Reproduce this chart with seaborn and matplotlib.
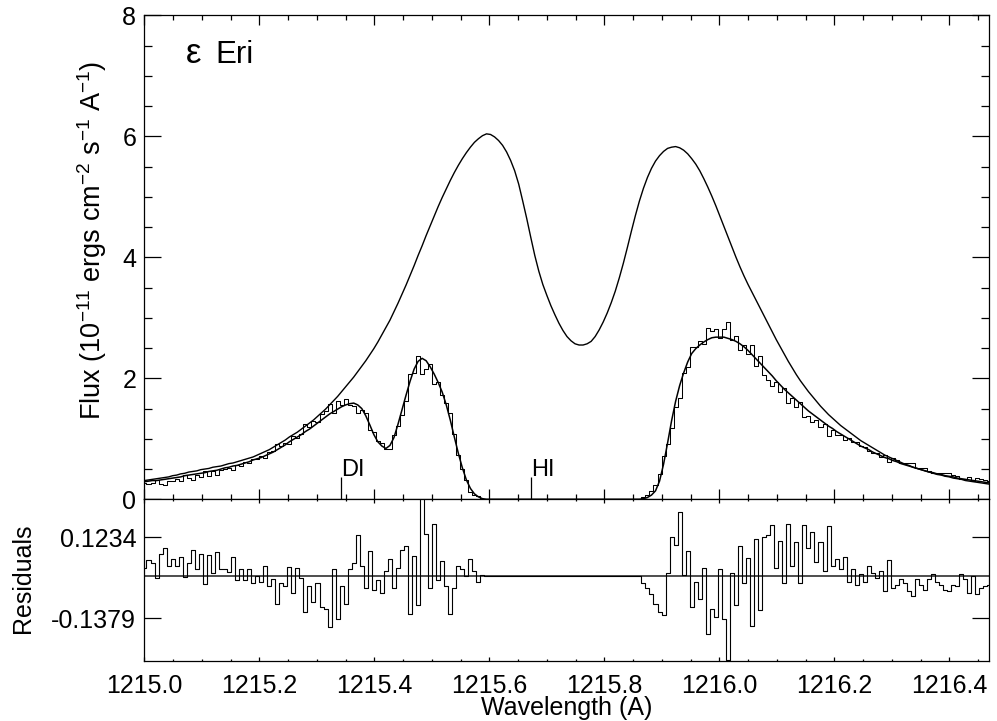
import numpy as np
import pandas as pd
import matplotlib
matplotlib.use("Agg")
import matplotlib.pyplot as plt
from matplotlib.ticker import MultipleLocator, FormatStrFormatter
import seaborn as sns

# ---------------- data ----------------
WAVE_START = 1215.0     # Angstrom, first bin centre
BIN_WIDTH = 0.007       # Angstrom

intrinsic_flux = [
    0.31, 0.32, 0.33, 0.34, 0.35, 0.36, 0.37, 0.39, 0.40, 0.42,
    0.43, 0.45, 0.46, 0.47, 0.49, 0.50, 0.51, 0.53, 0.54, 0.55,
    0.57, 0.59, 0.60, 0.62, 0.64, 0.66, 0.68, 0.70, 0.73, 0.76,
    0.79, 0.82, 0.86, 0.90, 0.94, 0.98, 1.03, 1.07, 1.11, 1.16,
    1.21, 1.26, 1.31, 1.37, 1.43, 1.49, 1.56, 1.63, 1.70, 1.78,
    1.86, 1.94, 2.02, 2.11, 2.20, 2.29, 2.39, 2.49, 2.60, 2.72,
    2.84, 2.96, 3.10, 3.24, 3.39, 3.54, 3.70, 3.86, 4.03, 4.19,
    4.36, 4.52, 4.68, 4.84, 4.99, 5.13, 5.27, 5.40, 5.52, 5.63,
    5.73, 5.82, 5.90, 5.96, 6.01, 6.04, 6.03, 5.99, 5.93, 5.85,
    5.74, 5.60, 5.43, 5.21, 4.93, 4.64, 4.33, 4.03, 3.77, 3.55,
    3.37, 3.20, 3.05, 2.91, 2.79, 2.69, 2.62, 2.57, 2.55, 2.55,
    2.57, 2.61, 2.69, 2.80, 2.93, 3.08, 3.25, 3.44, 3.66, 3.90,
    4.16, 4.43, 4.69, 4.93, 5.14, 5.32, 5.47, 5.59, 5.68, 5.75,
    5.80, 5.82, 5.83, 5.81, 5.77, 5.71, 5.63, 5.54, 5.43, 5.30,
    5.16, 5.01, 4.85, 4.68, 4.51, 4.34, 4.17, 4.00, 3.84, 3.69,
    3.55, 3.42, 3.29, 3.16, 3.03, 2.90, 2.77, 2.64, 2.52, 2.40,
    2.28, 2.17, 2.06, 1.96, 1.87, 1.78, 1.70, 1.62, 1.54, 1.47,
    1.40, 1.34, 1.28, 1.22, 1.17, 1.12, 1.07, 1.02, 0.97, 0.93,
    0.89, 0.85, 0.81, 0.77, 0.73, 0.70, 0.67, 0.64, 0.61, 0.58,
    0.56, 0.53, 0.51, 0.49, 0.47, 0.45, 0.43, 0.41, 0.40, 0.38,
    0.37, 0.35, 0.34, 0.33, 0.31, 0.30, 0.29, 0.28, 0.27, 0.26,
    0.25,
]

fit_flux = [
    0.29, 0.30, 0.31, 0.31, 0.32, 0.33, 0.34, 0.35, 0.36, 0.37,
    0.39, 0.40, 0.41, 0.42, 0.43, 0.44, 0.46, 0.47, 0.48, 0.50,
    0.52, 0.53, 0.55, 0.56, 0.58, 0.60, 0.62, 0.65, 0.67, 0.69,
    0.72, 0.75, 0.78, 0.82, 0.86, 0.90, 0.95, 0.99, 1.03, 1.07,
    1.12, 1.16, 1.21, 1.26, 1.31, 1.36, 1.41, 1.45, 1.49, 1.53,
    1.56, 1.58, 1.59, 1.56, 1.50, 1.38, 1.23, 1.07, 0.95, 0.88,
    0.84, 0.89, 1.02, 1.24, 1.48, 1.72, 1.95, 2.15, 2.28, 2.33,
    2.29, 2.19, 2.07, 1.93, 1.77, 1.56, 1.31, 1.03, 0.76, 0.52,
    0.32, 0.18, 0.09, 0.04, 0.01, 0.00, 0.00, 0.00, 0.00, 0.00,
    0.00, 0.00, 0.00, 0.00, 0.00, 0.00, 0.00, 0.00, 0.00, 0.00,
    0.00, 0.00, 0.00, 0.00, 0.00, 0.00, 0.00, 0.00, 0.00, 0.00,
    0.00, 0.00, 0.00, 0.00, 0.00, 0.00, 0.00, 0.00, 0.00, 0.00,
    0.00, 0.00, 0.00, 0.00, 0.01, 0.03, 0.07, 0.14, 0.30, 0.58,
    0.93, 1.30, 1.62, 1.88, 2.09, 2.27, 2.41, 2.49, 2.55, 2.60,
    2.64, 2.67, 2.68, 2.68, 2.68, 2.66, 2.64, 2.61, 2.57, 2.52,
    2.46, 2.39, 2.32, 2.25, 2.18, 2.11, 2.04, 1.96, 1.89, 1.82,
    1.76, 1.70, 1.64, 1.58, 1.52, 1.46, 1.41, 1.36, 1.31, 1.26,
    1.21, 1.17, 1.12, 1.08, 1.04, 1.00, 0.96, 0.92, 0.88, 0.85,
    0.82, 0.78, 0.75, 0.72, 0.69, 0.67, 0.64, 0.62, 0.59, 0.57,
    0.55, 0.53, 0.51, 0.49, 0.47, 0.45, 0.44, 0.42, 0.41, 0.39,
    0.38, 0.37, 0.35, 0.34, 0.33, 0.32, 0.31, 0.30, 0.29, 0.28,
    0.27,
]

# residuals = model - data (same bins)
residuals = [
    0.025, 0.051, 0.042, -0.006, 0.069, 0.091, 0.031, 0.053, 0.031, 0.060,
    -0.004, 0.042, 0.083, 0.023, 0.069, -0.028, 0.067, 0.009, 0.075, 0.020,
    0.023, 0.012, 0.060, -0.013, 0.023, -0.013, 0.023, -0.024, -0.002, -0.019,
    0.031, -0.035, -0.010, -0.090, -0.024, -0.032, 0.028, -0.057, 0.025, -0.008,
    -0.118, -0.035, -0.085, -0.024, -0.101, -0.107, -0.167, 0.020, -0.140, -0.035,
    -0.093, 0.020, 0.042, 0.130, 0.031, -0.041, 0.080, -0.046, -0.013, -0.057,
    0.014, 0.053, -0.041, 0.025, 0.083, 0.097, -0.123, 0.064, -0.096, 0.260,
    0.135, -0.041, 0.168, -0.013, 0.047, -0.035, -0.123, -0.041, 0.031, 0.020,
    -0.002, 0.053, 0.014, -0.019, 0.003, 0.000, 0.000, 0.000, 0.000, 0.000,
    0.000, 0.000, 0.000, 0.000, 0.000, 0.000, 0.000, 0.000, 0.000, 0.000,
    0.000, 0.000, 0.000, 0.000, 0.000, 0.000, 0.000, 0.000, 0.000, 0.000,
    0.000, 0.000, 0.000, 0.000, 0.000, 0.000, 0.000, 0.000, 0.000, 0.000,
    0.000, 0.000, 0.000, 0.000, -0.024, -0.040, -0.060, -0.090, -0.118, -0.128,
    0.010, 0.124, 0.100, 0.207, 0.003, 0.080, -0.101, -0.019, -0.074, 0.025,
    -0.189, -0.107, -0.134, 0.020, -0.140, -0.272, 0.009, -0.096, 0.097, -0.024,
    0.058, -0.162, 0.119, -0.112, 0.124, 0.130, 0.163, 0.025, 0.113, -0.024,
    0.168, 0.031, 0.108, -0.024, 0.163, 0.090, 0.140, 0.045, 0.110, 0.015,
    0.160, 0.030, 0.055, 0.020, 0.060, -0.020, 0.020, -0.030, 0.005, -0.020,
    0.030, 0.010, -0.008, 0.015, -0.050, 0.050, -0.040, -0.030, -0.010, -0.025,
    -0.050, -0.065, -0.010, -0.030, -0.045, -0.010, 0.005, -0.020, -0.030, -0.045,
    -0.050, -0.030, -0.035, 0.005, -0.010, -0.055, 0.000, -0.060, -0.040, -0.035,
    -0.030,
]

line_ids = ["DI", "HI"]
line_waves = [1215.342, 1215.672]

x_ticks = [1215.0, 1215.2, 1215.4, 1215.6, 1215.8, 1216.0, 1216.2, 1216.4]
flux_ticks = [0, 2, 4, 6, 8]
resid_ticks = [-0.1379, 0.1234]
resid_tick_labels = ["-0.1379", "0.1234"]

# ---------------- table ----------------
n = len(fit_flux)
wave = np.round(WAVE_START + BIN_WIDTH * np.arange(n), 3)
df = pd.DataFrame({
    "wave": wave,
    "intrinsic": intrinsic_flux,
    "fit": fit_flux,
    "resid": residuals,
})
df["observed"] = df["fit"] - df["resid"]

# ---------------- style ----------------
sns.set_theme(style="ticks")
plt.rcParams["font.family"] = ["Liberation Sans", "DejaVu Sans"]
plt.rcParams["mathtext.fontset"] = "custom"
plt.rcParams["mathtext.rm"] = "Liberation Sans"
plt.rcParams["mathtext.default"] = "regular"
plt.rcParams["axes.edgecolor"] = "black"
plt.rcParams["axes.linewidth"] = 0.9
plt.rcParams["xtick.color"] = "black"
plt.rcParams["ytick.color"] = "black"
plt.rcParams["text.color"] = "black"

fig = plt.figure(figsize=(9.97, 7.21), dpi=100)
L, W = 0.1449, 0.847
ax1 = fig.add_axes([L, 0.3075, W, 0.6713])
ax2 = fig.add_axes([L, 0.0832, W, 0.2243])

xmin, xmax = 1215.0, 1216.469

# ---------------- top panel ----------------
sns.lineplot(data=df, x="wave", y="intrinsic", ax=ax1, color="black", lw=1.0,
             estimator=None, legend=False)
sns.lineplot(data=df, x="wave", y="observed", ax=ax1, color="black", lw=0.75,
             drawstyle="steps-mid", estimator=None, legend=False)
sns.lineplot(data=df, x="wave", y="fit", ax=ax1, color="black", lw=1.1,
             estimator=None, legend=False)

ax1.vlines(line_waves, 0, 0.37, color="black", lw=0.9)
for lid, lw_ in zip(line_ids, line_waves):
    ax1.text(lw_, 0.385, lid, ha="left", va="baseline", fontsize=17)

ax1.text(1215.072, 7.21, "ε", ha="left", va="baseline", fontsize=25)
ax1.text(1215.124, 7.21, "Eri", ha="left", va="baseline", fontsize=22.5)

ax1.set_xlim(xmin, xmax)
ax1.set_ylim(0, 8)
ax1.set_xticks(x_ticks)
ax1.xaxis.set_minor_locator(MultipleLocator(0.05))
ax1.set_yticks(flux_ticks)
ax1.yaxis.set_minor_locator(MultipleLocator(0.5))
ax1.tick_params(which="both", direction="in", top=True, right=True,
                labelbottom=False, width=0.9)
ax1.tick_params(axis="x", which="major", length=7)
ax1.tick_params(axis="x", which="minor", length=3.5)
ax1.tick_params(axis="y", which="major", length=12.2, labelsize=18, pad=6)
ax1.tick_params(axis="y", which="minor", length=6.1)
ax1.set_xlabel("")
ax1.set_ylabel("")
ax1.text(-0.062, 0.534,
         "Flux (10$^{-11}$ ergs cm$^{-2}$ s$^{-1}$ A$^{-1}$)",
         transform=ax1.transAxes, rotation=90, ha="center", va="center",
         fontsize=19.5)

# ---------------- residual panel ----------------
ax2.axhline(0, color="0.3", lw=1.4, zorder=1)
sns.lineplot(data=df, x="wave", y="resid", ax=ax2, color="black", lw=0.8,
             drawstyle="steps-mid", estimator=None, legend=False, zorder=2)
ax2.set_xlim(xmin, xmax)
ax2.set_ylim(-0.2758, 0.2468)
ax2.set_xticks(x_ticks)
ax2.xaxis.set_major_formatter(FormatStrFormatter("%.1f"))
ax2.xaxis.set_minor_locator(MultipleLocator(0.05))
ax2.set_yticks(resid_ticks)
ax2.set_yticklabels(resid_tick_labels)
ax2.tick_params(which="both", direction="in", top=True, right=True, width=0.9)
ax2.tick_params(axis="x", which="major", length=2.6, labelsize=18, pad=9)
ax2.tick_params(axis="x", which="minor", length=1.4)
ax2.tick_params(axis="y", which="major", length=12.2, labelsize=18, pad=6)
ax2.set_xlabel("")
ax2.set_ylabel("")
ax2.text(-0.1439, 0.51, "Residuals", transform=ax2.transAxes, rotation=90,
         ha="center", va="center", fontsize=18)

fig.text(0.5685, 0.0347, "Wavelength (A)", ha="center", va="top", fontsize=18)

fig.savefig("out.png", dpi=100)
